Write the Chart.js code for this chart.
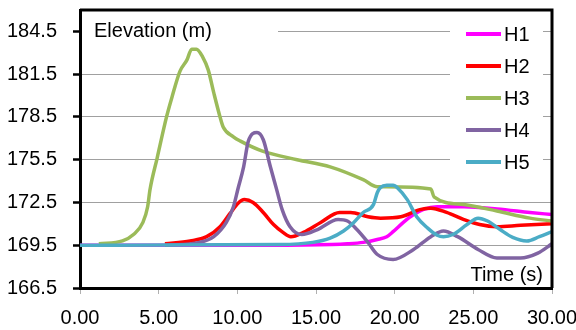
<!DOCTYPE html>
<html>
<head>
<meta charset="utf-8">
<script src="https://cdn.jsdelivr.net/npm/chart.js@4/dist/chart.umd.min.js"></script>
<style>
html,body{margin:0;padding:0;background:#fff;}
#wrap{width:576px;height:330px;position:relative;}
</style>
</head>
<body>
<div id="wrap"><canvas id="c"></canvas></div>
<script>
const seriesNames = ['H1','H2','H3','H4','H5'];
const yTickValues = [166.5,169.5,172.5,175.5,178.5,181.5,184.5];
const xTickValues = [0,5,10,15,20,25,30];

const h1Time = [0, 12, 16, 17, 18, 18.9, 19.5, 19.9, 20.55, 21.2, 21.8, 22.7, 24.4, 26.5, 28.6, 30];
const h1Elev = [169.5, 169.5, 169.55, 169.6, 169.7, 169.9, 170.1, 170.45, 171.1, 171.65, 172.0, 172.2, 172.2, 172.05, 171.8, 171.65];

const h2Time = [5.4, 7.0, 8.05, 8.9, 9.55, 10.05, 10.45, 11.0, 11.65, 12.3, 12.9, 13.4, 14.2, 15.3, 16.5, 17.2, 18.3, 19.1, 20.4, 21.6, 22.3, 23.3, 24.4, 25.4, 26.5, 28.0, 30];
const h2Elev = [169.6, 169.8, 170.1, 170.8, 171.75, 172.45, 172.7, 172.5, 171.8, 170.95, 170.4, 170.1, 170.4, 171.1, 171.8, 171.8, 171.5, 171.4, 171.5, 172.0, 172.1, 171.8, 171.3, 170.95, 170.8, 170.9, 171.0];

const h3Time = [1.2, 2.7, 3.4, 4.0, 4.3, 4.45, 4.9, 5.5, 5.85, 6.35, 6.8, 7.1, 7.4, 7.8, 8.15, 8.5, 8.9, 9.1, 9.75, 10.2, 11.6, 13.8, 15.9, 18.0, 18.9, 19.5, 22.3, 22.5, 24.4, 26.5, 28.6, 30];
const h3Elev = [169.6, 169.8, 170.25, 171.1, 172.2, 173.4, 175.6, 178.5, 179.9, 181.7, 182.5, 183.25, 183.25, 182.7, 181.8, 180.2, 178.5, 177.8, 177.1, 176.8, 176.1, 175.5, 175.0, 174.1, 173.6, 173.6, 173.45, 172.9, 172.35, 171.9, 171.4, 171.2];

const h4Time = [5.4, 7.6, 8.5, 9.3, 9.75, 10.05, 10.4, 10.7, 11.25, 11.65, 12.1, 12.5, 12.85, 13.35, 14.1, 15.1, 16.4, 17.0, 17.6, 18.3, 18.9, 19.9, 21.2, 22.3, 23.1, 24.0, 25.3, 26.5, 28.0, 29.1, 30];
const h4Elev = [169.5, 169.7, 170.1, 171.1, 172.2, 173.5, 175.0, 176.8, 177.4, 176.9, 175.0, 173.4, 172.0, 170.8, 170.25, 170.6, 171.3, 171.2, 170.6, 169.7, 168.85, 168.5, 169.2, 170.1, 170.5, 170.1, 169.2, 168.6, 168.6, 168.95, 169.6];

const h5Time = [0, 12.7, 14.8, 15.9, 16.75, 17.4, 18.0, 18.65, 18.9, 19.1, 19.5, 19.9, 20.2, 20.8, 21.4, 22.1, 22.7, 23.1, 23.7, 24.6, 25.3, 25.9, 26.7, 27.5, 28.4, 29.2, 30];
const h5Elev = [169.5, 169.55, 169.7, 170.0, 170.5, 171.1, 171.8, 172.35, 173.2, 173.55, 173.7, 173.7, 173.5, 172.7, 171.5, 170.7, 170.2, 170.1, 170.25, 170.95, 171.4, 171.2, 170.6, 170.05, 169.8, 170.1, 170.45];

const seriesColors = ['#FF00FF','#FF0000','#9BBB59','#8064A2','#4BACC6'];
const times = [h1Time,h2Time,h3Time,h4Time,h5Time];
const elevs = [h1Elev,h2Elev,h3Elev,h4Elev,h5Elev];

const FONT = "'Liberation Sans', Arial, sans-serif";

const datasets = seriesNames.map((name,i)=>({
  label: name,
  data: times[i].map((t,j)=>({x:t,y:elevs[i][j]})),
  borderColor: seriesColors[i],
  backgroundColor: seriesColors[i],
  borderWidth: 3.5,
  pointRadius: 0,
  cubicInterpolationMode: 'monotone',
  fill: false,
  order: 5 - i
}));

const decor = {
  id: 'decor',
  beforeDatasetsDraw(chart){
    const ctx = chart.ctx;
    const a = chart.chartArea;
    ctx.save();
    ctx.fillStyle = '#fff';
    ctx.fillRect(a.left + 2, a.top + 2, 196, 38);
    ctx.fillRect(a.right - 102, a.top + 2, 93, 166);
    ctx.restore();
  },
  afterDatasetsDraw(chart){
    const ctx = chart.ctx;
    const a = chart.chartArea;
    ctx.save();
    ctx.strokeStyle = '#000';
    ctx.lineWidth = 3;
    ctx.beginPath();
    ctx.moveTo(a.left, a.top);
    ctx.lineTo(a.right, a.top);
    ctx.lineTo(a.right, a.bottom);
    ctx.stroke();
    ctx.fillStyle = '#000';
    ctx.font = '20px ' + FONT;
    ctx.textBaseline = 'middle';
    ctx.textAlign = 'left';
    ctx.fillText('Elevation (m)', a.left + 14, a.top + 21);
    ctx.textAlign = 'right';
    ctx.fillText('Time (s)', a.right - 9, a.bottom - 13);
    ctx.textAlign = 'left';
    chart.data.datasets.forEach((ds,i)=>{
      const y = a.top + 24 + i*32;
      ctx.strokeStyle = ds.borderColor;
      ctx.lineWidth = 4;
      ctx.beginPath();
      ctx.moveTo(a.right - 86, y);
      ctx.lineTo(a.right - 51, y);
      ctx.stroke();
      ctx.fillStyle = '#000';
      ctx.fillText(ds.label, a.right - 48, y + 1);
    });
    ctx.restore();
  }
};

function zeroPad(s){ s.paddingTop = 0; s.paddingBottom = 0; s.paddingLeft = 0; s.paddingRight = 0; }

new Chart(document.getElementById('c'), {
  type: 'line',
  data: { datasets },
  options: {
    responsive: true,
    maintainAspectRatio: false,
    animation: false,
    layout: { padding: { top: 10, right: 24, left: 0, bottom: 0 } },
    plugins: { legend: { display: false }, tooltip: { enabled: false } },
    scales: {
      x: {
        type: 'linear',
        min: 0, max: 30,
        afterBuildTicks: s => { s.ticks = xTickValues.map(v=>({value:v})); },
        afterFit: s => { s.height = 42; zeroPad(s); },
        grid: { drawOnChartArea: false, tickLength: 6, color: '#b0b0b0', tickWidth: 1 },
        border: { color: '#000', width: 3 },
        ticks: { color: '#000', font: { family: FONT, size: 20 }, padding: 12, maxRotation: 0,
                 callback: v => Number(v).toFixed(2) }
      },
      y: {
        type: 'linear',
        min: 166.5, max: 186,
        afterBuildTicks: s => { s.ticks = yTickValues.map(v=>({value:v})); },
        afterFit: s => { s.width = 80; zeroPad(s); },
        grid: { color: '#a0a0a0', lineWidth: 1, tickLength: 7, tickColor: '#000', tickWidth: 2.5 },
        border: { color: '#000', width: 3 },
        ticks: { color: '#000', font: { family: FONT, size: 20 }, padding: 16,
                 callback: v => Number(v).toFixed(1) }
      }
    }
  },
  plugins: [decor]
});
</script>
</body>
</html>
